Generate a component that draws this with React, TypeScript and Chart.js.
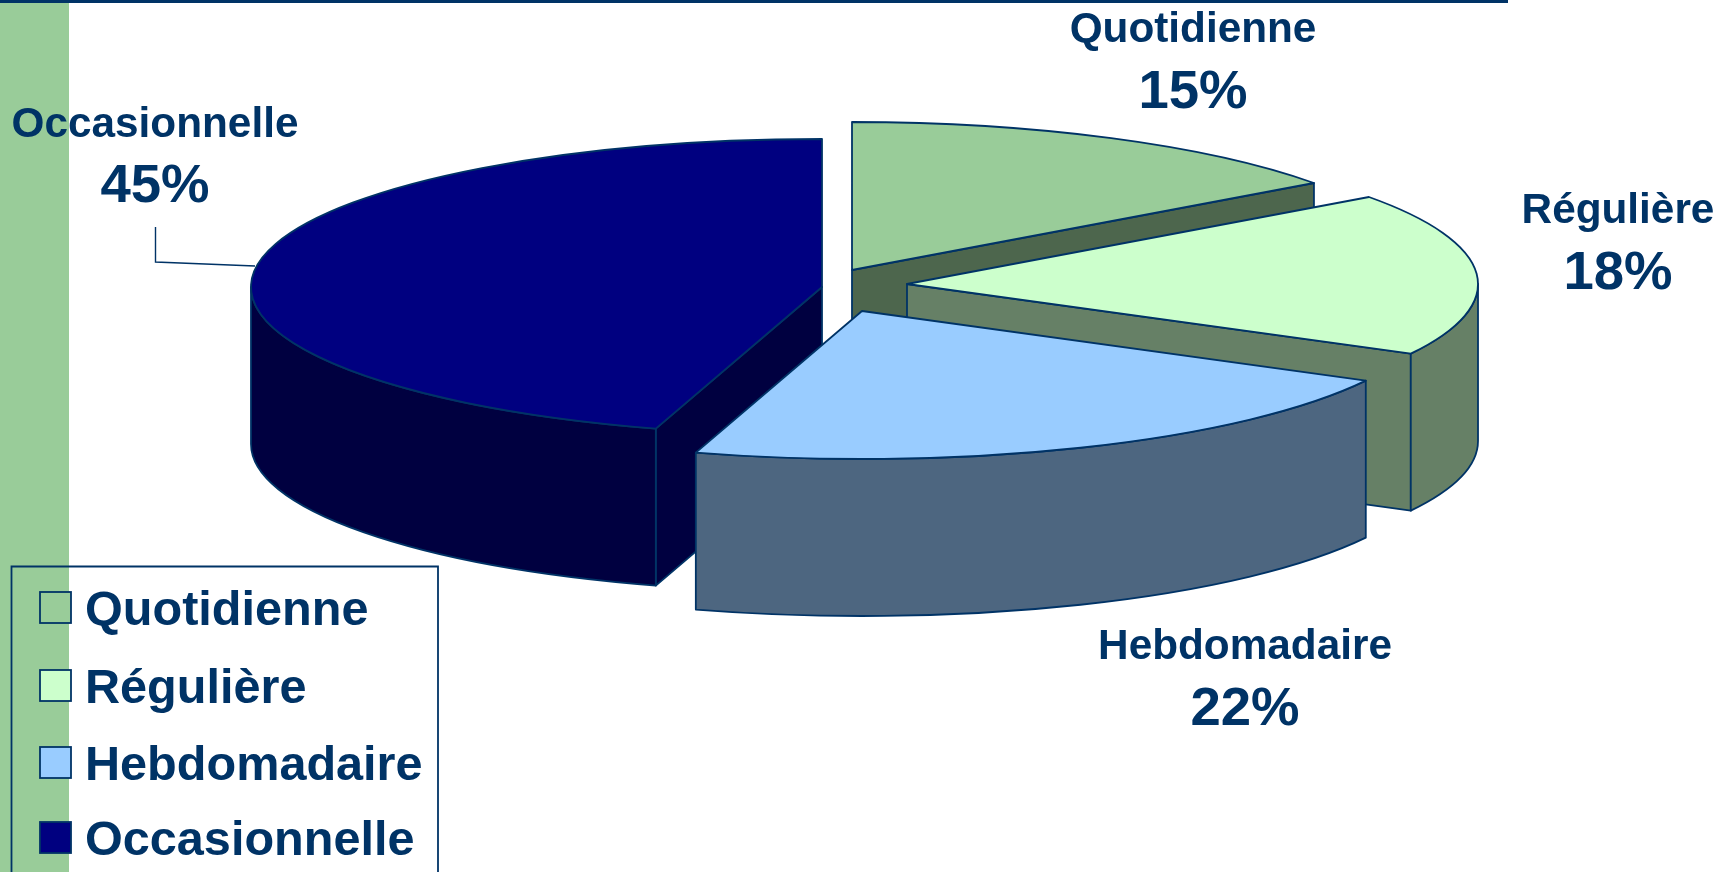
import React, { useEffect, useRef } from "react";
import { Chart, registerables } from "chart.js";

Chart.register(...registerables);

const categories = ["Quotidienne", "Régulière", "Hebdomadaire", "Occasionnelle"];
const shares = [15, 17.8, 21.9, 45.3];
const sliceColors = ["#99cc99", "#ccffcc", "#99ccff", "#000080"];
const wallColors = ["#4d664d", "#668066", "#4d6680", "#000040"];

const INK = "#003366";
const FONT = '"Liberation Sans", Arial, sans-serif';
const W = 1732;
const H = 872;
const RX = 571;
const RY = 148;
const DEPTH = 157;
// Where the apex of each exploded slice lands on the page
const apexes: [number, number][] = [[852, 270], [907, 284], [862, 311], [822, 287]];
const drawOrder = [3, 0, 1, 2];
const labelPlaces = [
  { x: 1193, y1: 42, y2: 108 },
  { x: 1618, y1: 223, y2: 289 },
  { x: 1245, y1: 659, y2: 725 },
  { x: 155, y1: 137, y2: 202 },
];
const legendRows = [622, 700, 777, 852];

const pie3d = {
  id: "pie3d",
  beforeDraw(chart: any) {
    const { ctx } = chart;
    ctx.save();
    ctx.fillStyle = "#ffffff";
    ctx.fillRect(0, 0, W, H);
    ctx.fillStyle = "#99cc99";
    ctx.fillRect(0, 3, 69, H - 3);
    ctx.fillStyle = INK;
    ctx.fillRect(0, 0, 1508, 3);
    ctx.restore();
  },
  beforeDatasetsDraw(chart: any) {
    const { ctx } = chart;
    const arcs = chart.getDatasetMeta(0).data;
    ctx.save();
    ctx.lineWidth = 1.8;
    ctx.lineJoin = "round";
    ctx.strokeStyle = INK;
    for (const i of drawOrder) {
      const arc = arcs[i];
      const { startAngle, endAngle, outerRadius, x, y } = arc.getProps(
        ["startAngle", "endAngle", "outerRadius", "x", "y"],
        true
      );
      const [cx, cy] = apexes[i];
      const px = (a: number) => cx + RX * Math.cos(a);
      const py = (a: number) => cy + RY * Math.sin(a);
      ctx.fillStyle = wallColors[i];

      // Straight inner walls
      const edges: number[] = [];
      if (Math.cos(startAngle) < -1e-6) edges.push(startAngle);
      if (Math.cos(endAngle) > 1e-6) edges.push(endAngle);
      for (const a of edges) {
        ctx.beginPath();
        ctx.moveTo(cx, cy);
        ctx.lineTo(px(a), py(a));
        ctx.lineTo(px(a), py(a) + DEPTH);
        ctx.lineTo(cx, cy + DEPTH);
        ctx.closePath();
        ctx.fill();
        ctx.stroke();
      }

      // Curved outer wall: only the front half of the ellipse shows
      const lo = Math.max(startAngle, 0);
      const hi = Math.min(endAngle, Math.PI);
      if (hi > lo) {
        ctx.beginPath();
        ctx.ellipse(cx, cy, RX, RY, 0, lo, hi, false);
        ctx.lineTo(px(hi), py(hi) + DEPTH);
        ctx.ellipse(cx, cy + DEPTH, RX, RY, 0, hi, lo, true);
        ctx.closePath();
        ctx.fill();
        ctx.stroke();
      }

      // Top face: the library's own arc, squashed into the tilted plane
      ctx.save();
      ctx.translate(cx, cy);
      ctx.scale(RX / outerRadius, RY / outerRadius);
      ctx.translate(-x, -y);
      arc.draw(ctx);
      ctx.restore();

      ctx.beginPath();
      ctx.moveTo(cx, cy);
      ctx.ellipse(cx, cy, RX, RY, 0, startAngle, endAngle, false);
      ctx.closePath();
      ctx.stroke();
    }
    ctx.restore();
    return false;
  },
  afterDraw(chart: any) {
    const { ctx } = chart;
    ctx.save();

    // Leader line of the Occasionnelle label
    ctx.strokeStyle = INK;
    ctx.lineWidth = 1.4;
    ctx.beginPath();
    ctx.moveTo(155.5, 227);
    ctx.lineTo(155.5, 262);
    ctx.lineTo(255, 266);
    ctx.stroke();

    // Data labels
    ctx.fillStyle = INK;
    ctx.textAlign = "center";
    ctx.textBaseline = "alphabetic";
    categories.forEach((name, i) => {
      const p = labelPlaces[i];
      ctx.font = `bold 42.3px ${FONT}`;
      ctx.fillText(name, p.x, p.y1);
      ctx.font = `bold 54.5px ${FONT}`;
      ctx.fillText(`${Math.round(shares[i])}%`, p.x, p.y2);
    });

    // Legend
    ctx.strokeStyle = INK;
    ctx.lineWidth = 1.8;
    ctx.beginPath();
    ctx.moveTo(11.5, H + 2);
    ctx.lineTo(11.5, 566.5);
    ctx.lineTo(438, 566.5);
    ctx.lineTo(438, H + 2);
    ctx.stroke();
    ctx.textAlign = "left";
    ctx.font = `bold 48.6px ${FONT}`;
    categories.forEach((name, i) => {
      const bottom = legendRows[i];
      ctx.fillStyle = sliceColors[i];
      ctx.fillRect(40, bottom - 30, 31, 31);
      ctx.strokeRect(40, bottom - 30, 31, 31);
      ctx.fillStyle = INK;
      ctx.fillText(name, 85, bottom + 3);
    });
    ctx.restore();
  },
};

export default function App() {
  const ref = useRef<HTMLCanvasElement>(null);
  useEffect(() => {
    const chart = new Chart(ref.current as HTMLCanvasElement, {
      type: "pie",
      data: {
        labels: categories,
        datasets: [
          {
            data: shares,
            backgroundColor: sliceColors,
            borderWidth: 0,
          },
        ],
      },
      options: {
        responsive: false,
        animation: false,
        rotation: 0,
        events: [],
        plugins: {
          legend: { display: false },
          tooltip: { enabled: false },
        },
      },
      plugins: [pie3d],
    } as any);
    return () => chart.destroy();
  }, []);
  return (
    <div style={{ position: "fixed", left: 0, top: 0, width: W, height: H, overflow: "hidden" }}>
      <canvas ref={ref} width={W} height={H} style={{ display: "block", width: W, height: H }} />
    </div>
  );
}
